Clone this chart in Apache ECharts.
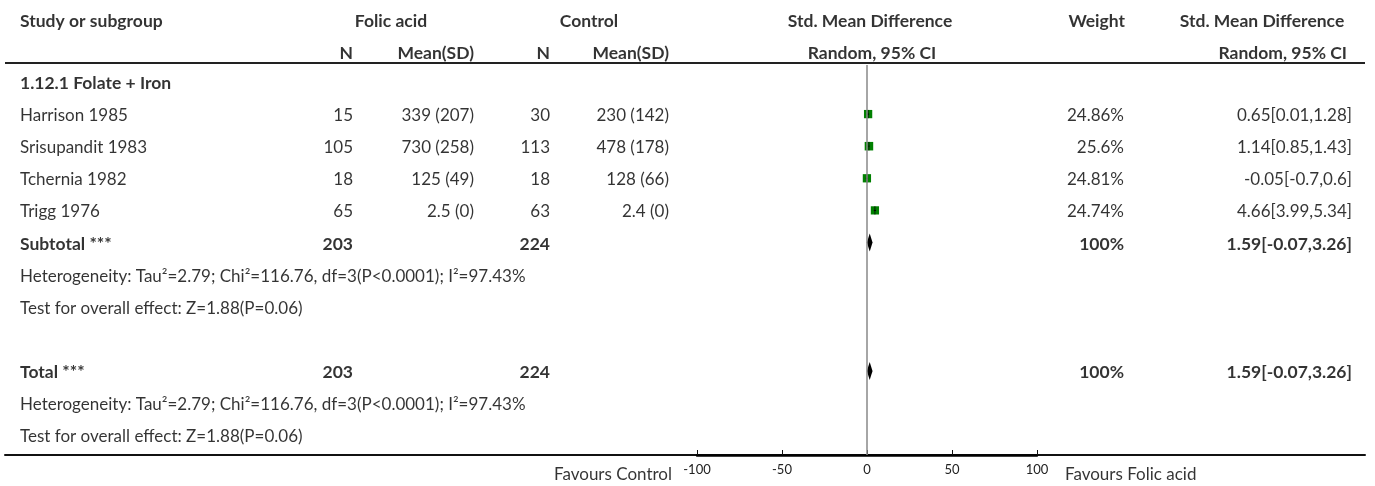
<!DOCTYPE html>
<html>
<head>
<meta charset="utf-8">
<script src="https://cdn.jsdelivr.net/npm/echarts@6/dist/echarts.min.js"></script>
<style>
html,body{margin:0;padding:0;background:#fff;}
#chart{width:1375px;height:486px;}
</style>
</head>
<body>
<div id="chart"></div>
<script>
// ---------------- data ----------------
const studies = ['Harrison 1985', 'Srisupandit 1983', 'Tchernia 1982', 'Trigg 1976'];
const folicN = [15, 105, 18, 65];
const folicMeanSD = ['339 (207)', '730 (258)', '125 (49)', '2.5 (0)'];
const controlN = [30, 113, 18, 63];
const controlMeanSD = ['230 (142)', '478 (178)', '128 (66)', '2.4 (0)'];
const weights = [24.86, 25.6, 24.81, 24.74];
const weightLabels = ['24.86%', '25.6%', '24.81%', '24.74%'];
const smd = [0.65, 1.14, -0.05, 4.66];
const ciLow = [0.01, 0.85, -0.7, 3.99];
const ciHigh = [1.28, 1.43, 0.6, 5.34];
const ciLabels = ['0.65[0.01,1.28]', '1.14[0.85,1.43]', '-0.05[-0.7,0.6]', '4.66[3.99,5.34]'];
const pooled = [1.59, -0.07, 3.26]; // estimate, low, high
const pooledLabel = '1.59[-0.07,3.26]';
const totalFolicN = 203;
const totalControlN = 224;
const subgroupTitle = '1.12.1 Folate + Iron';
const heterogeneity = 'Heterogeneity: Tau²=2.79; Chi²=116.76, df=3(P<0.0001); I²=97.43%';
const overallTest = 'Test for overall effect: Z=1.88(P=0.06)';
const axisTicks = [-100, -50, 0, 50, 100];
const favoursLeft = 'Favours Control';
const favoursRight = 'Favours Folic acid';

// ---------------- layout (rows) ----------------
const HDR1 = -1.93, HDR2 = -0.93, HLINE = -0.59;
const ROW_SUB = 0, ROW_STUDY0 = 1, ROW_SUBTOTAL = 5, ROW_HET1 = 6, ROW_TEST1 = 7;
const ROW_TOTAL = 9, ROW_HET2 = 10, ROW_TEST2 = 11, ROW_FAV = 12.18;
const Y_MIN = -2.554, Y_MAX = 11.62;

const FONT = 'Lato';
const FS = 17;
const TXT = '#000';

// column x positions (table axis units == pixels)
const COL = {
  study: 20, folN: 353, folMean: 474, conN: 550, conMean: 669,
  weight: 1124, ci: 1352
};

function textSeries(items, align, bold) {
  return {
    type: 'scatter', xAxisIndex: 0, yAxisIndex: 0, silent: true, clip: false,
    symbolSize: 1, itemStyle: { color: 'rgba(0,0,0,0)' },
    label: {
      show: true, position: 'inside', align: align, verticalAlign: 'middle',
      offset: [0, 1.5],
      formatter: '{b}', color: TXT, fontFamily: FONT, fontSize: bold ? 17.5 : FS,
      fontWeight: bold ? 'bold' : 'normal'
    },
    data: items.map(d => ({ name: String(d[2]), value: [d[0], d[1]] }))
  };
}

const leftRegular = [], rightRegular = [], leftBold = [], rightBold = [], centerBold = [];
leftBold.push([COL.study, HDR1, 'Study or subgroup']);
centerBold.push([391, HDR1, 'Folic acid']);
centerBold.push([589, HDR1, 'Control']);
centerBold.push([870, HDR1, 'Std. Mean Difference']);
rightBold.push([1125, HDR1, 'Weight']);
centerBold.push([1262, HDR1, 'Std. Mean Difference']);
rightBold.push([COL.folN, HDR2, 'N']);
rightBold.push([COL.folMean, HDR2, 'Mean(SD)']);
rightBold.push([COL.conN, HDR2, 'N']);
rightBold.push([COL.conMean, HDR2, 'Mean(SD)']);
centerBold.push([872, HDR2, 'Random, 95% CI']);
rightBold.push([1347, HDR2, 'Random, 95% CI']);

leftBold.push([COL.study, ROW_SUB, subgroupTitle]);
studies.forEach((s, i) => {
  const r = ROW_STUDY0 + i;
  leftRegular.push([COL.study, r, s]);
  rightRegular.push([COL.folN, r, folicN[i]]);
  rightRegular.push([COL.folMean, r, folicMeanSD[i]]);
  rightRegular.push([COL.conN, r, controlN[i]]);
  rightRegular.push([COL.conMean, r, controlMeanSD[i]]);
  rightRegular.push([COL.weight, r, weightLabels[i]]);
  rightRegular.push([COL.ci, r, ciLabels[i]]);
});
[[ROW_SUBTOTAL, 'Subtotal ***', ROW_HET1, ROW_TEST1], [ROW_TOTAL, 'Total ***', ROW_HET2, ROW_TEST2]].forEach(g => {
  leftBold.push([COL.study, g[0], g[1]]);
  rightBold.push([COL.folN, g[0], totalFolicN]);
  rightBold.push([COL.conN, g[0], totalControlN]);
  rightBold.push([COL.weight, g[0], '100%']);
  rightBold.push([COL.ci, g[0], pooledLabel]);
  leftRegular.push([COL.study, g[2], heterogeneity]);
  leftRegular.push([COL.study, g[3], overallTest]);
});
rightRegular.push([672, ROW_FAV, favoursLeft]);
leftRegular.push([1065, ROW_FAV, favoursRight]);

const squareData = smd.map((v, i) => ({ value: [v, ROW_STUDY0 + i], symbolSize: weights[i] / 3 }));
const ciData = smd.map((v, i) => [ciLow[i], ciHigh[i], v, ROW_STUDY0 + i, weights[i] / 3]);
const diamondData = [[pooled[1], pooled[2], pooled[0], ROW_SUBTOTAL], [pooled[1], pooled[2], pooled[0], ROW_TOTAL]];

const chart = echarts.init(document.getElementById('chart'), null, { renderer: 'canvas' });
const yAxisBase = { type: 'value', inverse: true, min: Y_MIN, max: Y_MAX, show: false };

chart.setOption({
  animation: false,
  backgroundColor: '#fff',
  grid: [
    { left: 5, right: 10, top: 0, bottom: 31 },
    { left: 697, right: 338, top: 0, bottom: 31 }
  ],
  xAxis: [
    {
      gridIndex: 0, type: 'value', min: 5, max: 1365, position: 'bottom',
      axisLine: { show: true, onZero: false, lineStyle: { color: '#111', width: 2 } },
      axisTick: { show: false }, axisLabel: { show: false }, splitLine: { show: false }
    },
    {
      gridIndex: 1, type: 'value', min: -100, max: 100, interval: 50, position: 'bottom',
      axisLine: { show: true, onZero: false, lineStyle: { color: '#000', width: 2.5 } },
      axisTick: { show: true, inside: true, length: 5, lineStyle: { color: '#111', width: 1 } },
      axisLabel: { show: true, color: '#222', fontFamily: FONT, fontSize: 13, margin: 8,
        customValues: axisTicks },
      splitLine: { show: false }
    }
  ],
  yAxis: [
    Object.assign({ gridIndex: 0 }, yAxisBase),
    Object.assign({ gridIndex: 1 }, yAxisBase)
  ],
  series: [
    // header rule
    {
      type: 'line', xAxisIndex: 0, yAxisIndex: 0, data: [], silent: true,
      markLine: {
        silent: true, symbol: 'none', label: { show: false },
        lineStyle: { color: '#222', width: 2, type: 'solid' },
        data: [[{ coord: [5, HLINE] }, { coord: [1365, HLINE] }]]
      }
    },
    textSeries(leftRegular, 'left', false),
    textSeries(rightRegular, 'right', false),
    textSeries(leftBold, 'left', true),
    textSeries(rightBold, 'right', true),
    textSeries(centerBold, 'center', true),
    // zero line
    {
      type: 'line', xAxisIndex: 1, yAxisIndex: 1, data: [], silent: true,
      markLine: {
        silent: true, symbol: 'none', label: { show: false },
        lineStyle: { color: '#888', width: 1.5, type: 'solid' },
        data: [[{ coord: [0, HLINE + 0.06] }, { coord: [0, Y_MAX] }]]
      }
    },
    // study squares
    {
      type: 'scatter', xAxisIndex: 1, yAxisIndex: 1, symbol: 'rect', silent: true,
      itemStyle: { color: '#008000', opacity: 1 }, data: squareData, z: 3
    },
    // CI lines
    {
      type: 'custom', xAxisIndex: 1, yAxisIndex: 1, silent: true, z: 4,
      data: ciData,
      renderItem: function (params, api) {
        const a = api.coord([api.value(0), api.value(3)]);
        const b = api.coord([api.value(1), api.value(3)]);
        const c = api.coord([api.value(2), api.value(3)]);
        const h = api.value(4) * 0.5;
        return {
          type: 'group', children: [
            { type: 'line', shape: { x1: a[0], y1: a[1], x2: b[0], y2: b[1] }, style: { stroke: '#000', lineWidth: 1 } },
            { type: 'line', shape: { x1: c[0], y1: c[1] - h, x2: c[0], y2: c[1] + h }, style: { stroke: '#000', lineWidth: 1, opacity: 0.8 } }
          ]
        };
      }
    },
    // pooled diamonds
    {
      type: 'custom', xAxisIndex: 1, yAxisIndex: 1, silent: true, z: 4,
      data: diamondData,
      renderItem: function (params, api) {
        const lo = api.coord([api.value(0), api.value(3)]);
        const hi = api.coord([api.value(1), api.value(3)]);
        const est = api.coord([api.value(2), api.value(3)]);
        const h = 9;
        return {
          type: 'polygon',
          shape: { points: [[lo[0], lo[1]], [est[0], est[1] - h], [hi[0], hi[1]], [est[0], est[1] + h]] },
          style: { fill: '#000' }
        };
      }
    }
  ]
});
</script>
</body>
</html>
